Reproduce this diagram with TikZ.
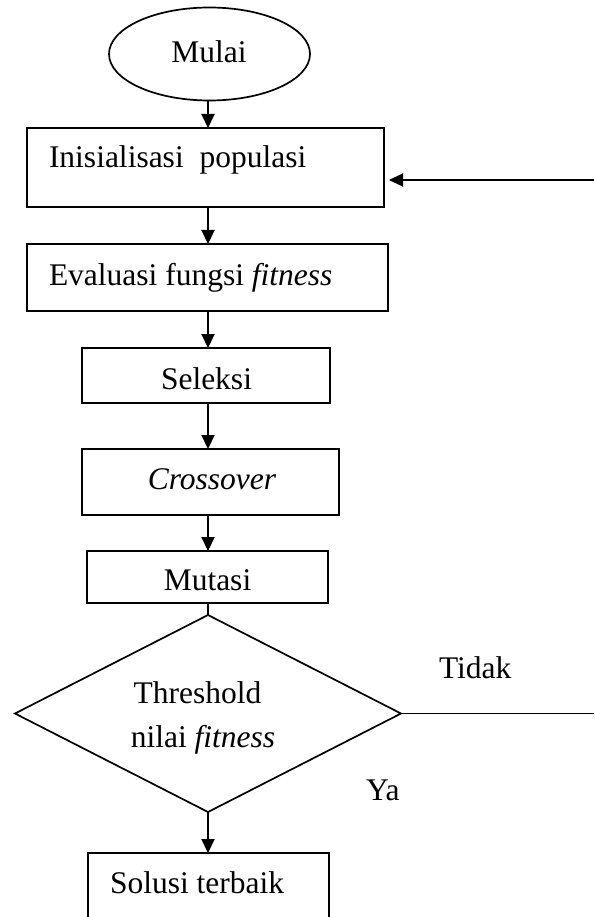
\documentclass[tikz,border=0pt]{standalone}
\usepackage{fontspec}
\setmainfont{Liberation Serif}
\usetikzlibrary{arrows.meta,shapes.geometric,calc}

\tikzset{
  box/.style={draw=black, line width=2.1pt, rectangle, inner sep=0pt, outer sep=0pt},
  arr/.style={line width=2.1pt, -{Triangle[length=14pt,width=13pt]}},
  lbl/.style={inner sep=0pt, outer sep=0pt, font=\fontsize{31.5}{36}\selectfont},
}

\begin{document}
\begin{tikzpicture}[x=1pt,y=-1pt]
  \useasboundingbox (0,0) rectangle (594,917);
  \clip (0,0) rectangle (594,917);

  % shapes
  \node[draw, line width=1.7pt, ellipse, inner sep=0pt, outer sep=0pt,
        minimum width=201pt, minimum height=93pt] (mulai) at (209.5,54) {};
  \node[box, minimum width=357pt, minimum height=79pt] (init) at (205.5,167.5) {};
  \node[box, minimum width=361pt, minimum height=67pt] (eval) at (207.5,277.5) {};
  \node[box, minimum width=248pt, minimum height=55pt] (sel) at (206,375.5) {};
  \node[box, minimum width=257pt, minimum height=66pt] (cross) at (210.5,482) {};
  \node[box, minimum width=241pt, minimum height=52pt] (mut) at (207.5,577) {};
  \node[draw, line width=1.7pt, diamond, inner sep=0pt, outer sep=0pt,
        minimum width=386pt, minimum height=197pt, shape aspect=1.96] (dec) at (208,713.5) {};
  \node[box, minimum width=241pt, minimum height=120pt, anchor=north] (best) at (208.5,853) {};

  % loose ends of the loop back to the start
  \coordinate (loopin) at (594,180);
  \coordinate (loopout) at (594,713.5);

  % labels
  \node[lbl, anchor=base] (tMulai) at (209,63) {Mulai};
  \node[lbl, anchor=base west] (tInit) at (49,168) {Inisialisasi~~populasi};
  \node[lbl, anchor=base west] (tEval) at (49,285) {Evaluasi fungsi \textit{fitness}};
  \node[lbl, anchor=base] (tSel) at (206.5,389) {Seleksi};
  \node[lbl, anchor=base] (tCross) at (212,489) {\textit{Crossover}};
  \node[lbl, anchor=base] (tMut) at (207.5,590) {Mutasi};
  \node[lbl, anchor=base] (tThr) at (197.5,703) {Threshold};
  \node[lbl, anchor=base] (tNil) at (203,747) {nilai \textit{fitness}};
  \node[lbl, anchor=base west] (tTidak) at (439,678) {Tidak};
  \node[lbl, anchor=base west] (tYa) at (366,800) {Ya};
  \node[lbl, anchor=base west] (tBest) at (110,893) {Solusi terbaik};

  % connectors
  \draw[arr] (mulai.south -| 208,0) -- (init.north -| 208,0);
  \draw[arr] (init.south -| 208,0) -- (eval.north -| 208,0);
  \draw[arr] (eval.south -| 208,0) -- (sel.north -| 208,0);
  \draw[arr] (sel.south -| 208,0) -- (cross.north -| 208,0);
  \draw[arr] (cross.south -| 208,0) -- (mut.north -| 208,0);
  \draw[line width=2.1pt] (mut.south -| 208,0) -- (dec.north);
  \draw[arr] (dec.south) -- (best.north -| 208,0);
  \draw[line width=1.4pt] (dec.east) -- (loopout);
  \draw[arr, shorten >=5pt] (loopin) -- (loopin -| init.east);
\end{tikzpicture}
\end{document}
